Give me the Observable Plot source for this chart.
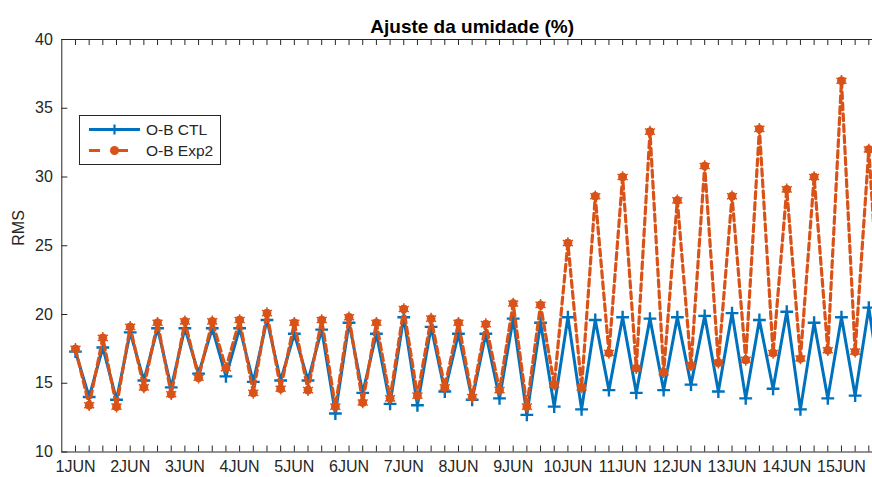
<!DOCTYPE html>
<html>
<head>
<meta charset="utf-8">
<script src="https://cdn.jsdelivr.net/npm/d3@7"></script>
<script src="https://cdn.jsdelivr.net/npm/@observablehq/plot@0.6"></script>
<style>
  html, body { margin: 0; padding: 0; background: #fff; overflow: hidden; }
  #wrap { position: relative; width: 872px; height: 477px; overflow: hidden; }
  #wrap > svg { max-width: none !important; }
  #legend { position: absolute; left: 79px; top: 115px; }
</style>
</head>
<body>
<div id="wrap"></div>
<script>
// ---- data (one value every 6 hours, starting 1 JUN 00h) ----
const ctl = [
  17.3, 14.0, 17.6, 13.8, 18.7, 15.2, 19.0, 14.7, 19.0, 15.7,
  19.0, 15.5, 19.0, 15.1, 19.6, 15.2, 18.6, 15.2, 18.9, 12.8,
  19.4, 14.3, 18.6, 13.5, 19.8, 13.4, 19.1, 14.4, 18.6, 13.8,
  18.6, 13.9, 19.7, 12.7, 19.4, 13.3, 19.8, 13.1, 19.6, 14.5,
  19.8, 14.3, 19.7, 14.5, 19.8, 14.9, 19.9, 14.4, 20.1, 13.9,
  19.6, 14.6, 20.2, 13.1, 19.4, 13.9, 19.8, 14.1, 20.5, 13.8
];
const exp2 = [
  17.5, 13.4, 18.3, 13.3, 19.1, 14.7, 19.4, 14.2, 19.5, 15.4,
  19.5, 16.1, 19.6, 14.3, 20.1, 14.6, 19.4, 14.5, 19.6, 13.3,
  19.8, 13.6, 19.4, 13.9, 20.4, 14.1, 19.7, 14.7, 19.4, 14.0,
  19.3, 14.5, 20.8, 13.3, 20.7, 14.9, 25.2, 14.7, 28.6, 17.2,
  30.0, 16.1, 33.3, 15.8, 28.3, 16.3, 30.8, 16.5, 28.6, 16.7,
  33.5, 17.2, 29.1, 16.8, 30.0, 17.4, 37.0, 17.3, 32.0, 16.5
];
const dayLabels = ["1JUN","2JUN","3JUN","4JUN","5JUN","6JUN","7JUN","8JUN",
                   "9JUN","10JUN","11JUN","12JUN","13JUN","14JUN","15JUN"];
const yTicks = [10, 15, 20, 25, 30, 35, 40];
const seriesNames = ["O-B CTL", "O-B Exp2"];
const titleText = "Ajuste da umidade (%)";
const yLabel = "RMS";

// ---- derived tables ----
const STEP = 6 * 3600e3;
const T0 = Date.UTC(2019, 5, 1);
const time = i => new Date(T0 + i * STEP);
const rows = ctl.map((v, i) => ({t: time(i), ctl: v, exp2: exp2[i]}));
const minorTicks = d3.range(0, 60).map(time);
const dayTicks = dayLabels.map((_, d) => time(d * 4));

const blue = "#0072BD", orange = "#D95319", ink = "#262626";
const W = 890, H = 477;
const mL = 61.3, mR = 8, mT = 39, mB = 25.5;
const plotW = W - mL - mR, plotH = H - mT - mB;

const chart = Plot.plot({
  width: W, height: H,
  marginLeft: mL, marginRight: mR, marginTop: mT, marginBottom: mB,
  style: {fontFamily: "'Liberation Sans', Arial, sans-serif", fontSize: "16px", color: ink, background: "#fff", overflow: "visible", maxWidth: "none"},
  x: {type: "utc", domain: [time(-1), time(59)], axis: null},
  y: {domain: [10, 40], axis: null},
  marks: [
    Plot.line(rows, {x: "t", y: "ctl", stroke: blue, strokeWidth: 3, clip: true}),
    Plot.dot(rows, {x: "t", y: "ctl", symbol: "plus", r: 4.2, stroke: blue, strokeWidth: 2.4, clip: true}),
    Plot.line(rows, {x: "t", y: "exp2", stroke: orange, strokeWidth: 3.2, strokeDasharray: "7,4", clip: true}),
    Plot.dot(rows, {x: "t", y: "exp2", r: 4, fill: orange, stroke: orange, strokeWidth: 1, clip: true}),
    Plot.dot(rows, {x: "t", y: "exp2", symbol: "asterisk", r: 5.5, stroke: orange, strokeWidth: 1.5, clip: true}),
    Plot.frame({stroke: ink, strokeWidth: 1}),
    Plot.tickX(minorTicks, {x: d => d, insetTop: plotH - 6, stroke: ink}),
    Plot.tickX(minorTicks, {x: d => d, insetBottom: plotH - 6, stroke: ink}),
    Plot.tickY(yTicks, {y: d => d, insetRight: plotW - 6, stroke: ink}),
    Plot.axisX(dayTicks, {tickSize: 0, tickPadding: 9, fontSize: 16,
      tickFormat: d => dayLabels[Math.round((d - T0) / (4 * STEP))], label: null}),
    Plot.axisY(yTicks, {tickSize: 0, tickPadding: 9, fontSize: 16, label: null}),
    Plot.text([yLabel], {frameAnchor: "left", dx: -43, rotate: -90, fontSize: 16, fill: ink}),
    Plot.text([titleText], {frameAnchor: "top", lineAnchor: "bottom", dy: -7, fontSize: 19, fontWeight: "bold", fill: "#000"})
  ]
});
document.getElementById("wrap").appendChild(chart);

// ---- legend ----
const ns = "http://www.w3.org/2000/svg";
const leg = document.createElementNS(ns, "svg");
leg.setAttribute("id", "legend");
leg.setAttribute("width", 143);
leg.setAttribute("height", 51);
leg.style.fontFamily = "'Liberation Sans', Arial, sans-serif";
function el(tag, attrs, text) {
  const e = document.createElementNS(ns, tag);
  for (const k in attrs) e.setAttribute(k, attrs[k]);
  if (text) e.textContent = text;
  leg.appendChild(e);
  return e;
}
el("rect", {x: 0.5, y: 0.5, width: 141, height: 49, fill: "#fff", stroke: ink});
// CTL entry
el("line", {x1: 10, x2: 61, y1: 14.5, y2: 14.5, stroke: blue, "stroke-width": 3});
el("path", {d: "M35.5,9.5V19.5M30.5,14.5H40.5", stroke: blue, "stroke-width": 2.2, fill: "none"});
el("text", {x: 67, y: 20, "font-size": 15.5, fill: ink}, seriesNames[0]);
// Exp2 entry
el("line", {x1: 10, x2: 61, y1: 35.5, y2: 35.5, stroke: orange, "stroke-width": 3, "stroke-dasharray": "11,17"});
el("circle", {cx: 35.5, cy: 35.5, r: 4.5, fill: orange});
el("text", {x: 67, y: 41, "font-size": 15.5, fill: ink}, seriesNames[1]);
document.getElementById("wrap").appendChild(leg);
</script>
</body>
</html>
